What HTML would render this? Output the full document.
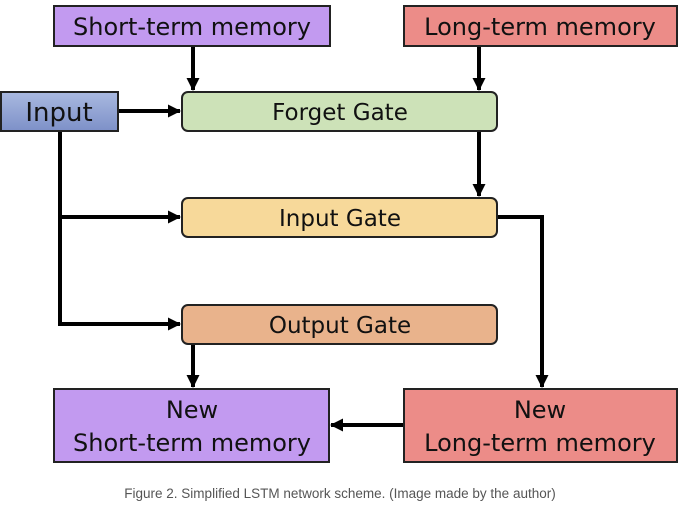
<!DOCTYPE html>
<html><head><style>
body{margin:0;background:#fff;width:680px;height:505px;overflow:hidden}
svg text{font-family:"DejaVu Sans",sans-serif;fill:#111}
</style></head><body>
<svg width="680" height="505" viewBox="0 0 680 505">
<defs>
<linearGradient id="g" x1="0" y1="0" x2="0" y2="1"><stop offset="0" stop-color="#a9b9e0"/><stop offset="1" stop-color="#7d90c8"/></linearGradient>
<marker id="a" markerWidth="13" markerHeight="13" refX="12" refY="6.5" orient="auto" markerUnits="userSpaceOnUse"><path d="M0,0 L13,6.5 L0,13 z" fill="#000"/></marker>
</defs>
<g stroke="#000" stroke-width="4" fill="none">
<path d="M193 46 V90" marker-end="url(#a)"/>
<path d="M479 46 V90" marker-end="url(#a)"/>
<path d="M118 111 H180" marker-end="url(#a)"/>
<path d="M60 131 V324 H180" marker-end="url(#a)"/>
<path d="M60 217 H180" marker-end="url(#a)"/>
<path d="M479 131 V196" marker-end="url(#a)"/>
<path d="M497 217 H542 V387" marker-end="url(#a)"/>
<path d="M193 344 V387" marker-end="url(#a)"/>
<path d="M404 425 H331" marker-end="url(#a)"/>
</g>
<g stroke="#222" stroke-width="2">
<rect x="54" y="6" width="276" height="40" fill="#c29af0"/>
<rect x="404" y="6" width="273" height="40" fill="#ec8c88"/>
<rect x="1" y="92" width="117" height="39" fill="url(#g)"/>
<rect x="182" y="92" width="315" height="39" rx="6" fill="#cde2b8"/>
<rect x="182" y="198" width="315" height="39" rx="6" fill="#f7d99a"/>
<rect x="182" y="305" width="315" height="39" rx="6" fill="#e9b38c"/>
<rect x="54" y="389" width="275" height="73" fill="#c29af0"/>
<rect x="404" y="389" width="273" height="73" fill="#ec8c88"/>
</g>
<g text-anchor="middle" font-size="24">
<text x="192" y="35">Short-term memory</text>
<text x="540" y="35">Long-term memory</text>
<text x="59" y="121" font-size="26">Input</text>
<text x="340" y="120" font-size="23">Forget Gate</text>
<text x="340" y="226" font-size="23">Input Gate</text>
<text x="340" y="333" font-size="23">Output Gate</text>
<text x="192" y="418">New</text>
<text x="192" y="451">Short-term memory</text>
<text x="540" y="418">New</text>
<text x="540" y="451">Long-term memory</text>
<text x="340" y="498" font-size="13.5" style="font-family:'Liberation Sans',sans-serif;fill:#555">Figure 2. Simplified LSTM network scheme. (Image made by the author)</text>
</g>
</svg>
</body></html>
